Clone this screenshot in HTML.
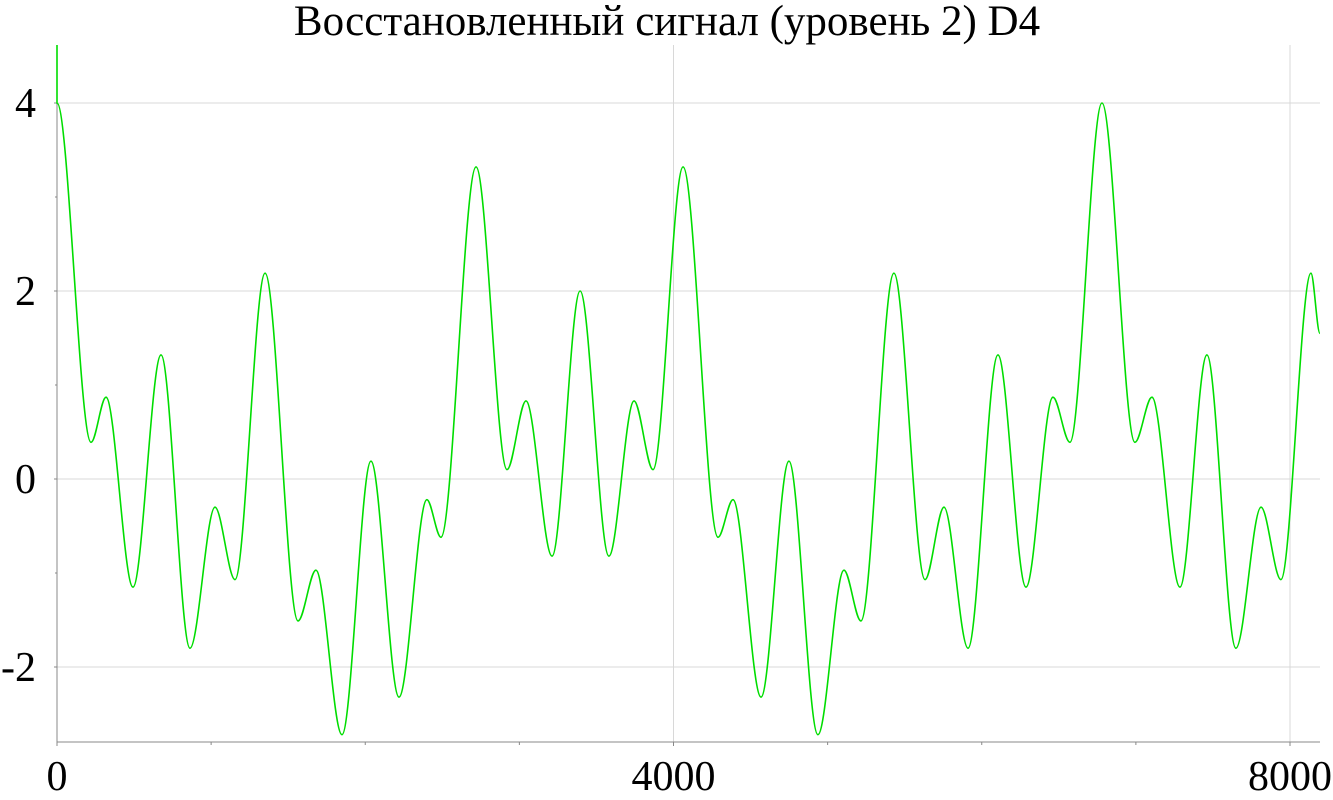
<!DOCTYPE html>
<html><head><meta charset="utf-8"><style>
html,body{margin:0;padding:0;background:#fff;}
svg{display:block;font-family:"Liberation Serif",serif;}
</style></head><body>
<svg id="chart" width="1333" height="800">
<text x="667" y="35" text-anchor="middle" font-size="43">Восстановленный сигнал (уровень 2) D4</text>
<g id="grid"></g><g id="axes"></g><g id="series"></g>
</svg>
<script>
const sampleIdx = [0,221,318,493,675,863,1025,1155,1350,1564,1680,1849,2037,2219,2400,2491,2719,2920,3043,3212,3394,3581,3744,3867,4062,4289,4386,4568,4749,4937,5106,5216,5430,5632,5755,5911,6105,6287,6462,6572,6780,6994,7104,7286,7461,7649,7812,7941,8136,8194];
const amplitude = [4.0,0.39,0.87,-1.15,1.32,-1.8,-0.3,-1.07,2.19,-1.51,-0.97,-2.72,0.19,-2.32,-0.22,-0.62,3.32,0.1,0.83,-0.82,2.0,-0.82,0.83,0.1,3.32,-0.62,-0.22,-2.32,0.19,-2.72,-0.97,-1.51,2.19,-1.07,-0.3,-1.8,1.32,-1.15,0.87,0.39,4.0,0.39,0.87,-1.15,1.32,-1.8,-0.3,-1.07,2.19,1.55];
const xTicks = [0,4000,8000];
const xMinor = [1000,2000,3000,5000,6000,7000];
const yTicks = [-2,0,2,4];
const yMinor = [-1,1,3];

const X0=57, X1=1320, Y0=45, Y1=742;
const xs = v => 57 + v*0.154125;
const ys = v => 479 - v*94;
const NS='http://www.w3.org/2000/svg';
function mk(tag, attrs, parent){const e=document.createElementNS(NS,tag);for(const k in attrs)e.setAttribute(k,attrs[k]);parent.appendChild(e);return e;}
const grid=document.getElementById('grid'), axes=document.getElementById('axes'), series=document.getElementById('series');

yTicks.forEach(v=>{
  const l=mk('line',{x1:X0,x2:X1,y1:ys(v),y2:ys(v),stroke:'#d8d8d8','stroke-width':1},grid);
  
  
  const t=mk('line',{x1:X0-3,x2:X0,y1:ys(v),y2:ys(v),stroke:'#888'},axes);
  
  
  const tx=mk('text',{x:X0-21,y:ys(v)+14,'text-anchor':'end','font-size':42},axes);
  tx.textContent=v;
  
  
});
yMinor.forEach(v=>{
  const t=mk('line',{x1:X0-2,x2:X0,y1:ys(v),y2:ys(v),stroke:'#888'},axes);
  
  
});
xTicks.forEach(v=>{
  const l=mk('line',{x1:xs(v),x2:xs(v),y1:Y0,y2:Y1,stroke:'#d8d8d8','stroke-width':1},grid);
  
  
  const t=mk('line',{x1:xs(v),x2:xs(v),y1:Y1,y2:Y1+4,stroke:'#888'},axes);
  
  
  const tx=mk('text',{x:xs(v),y:790,'text-anchor':'middle','font-size':42},axes);
  tx.textContent=v;
  
  
});
xMinor.forEach(v=>{
  const t=mk('line',{x1:xs(v),x2:xs(v),y1:Y1,y2:Y1+3,stroke:'#888'},axes);
  
  
});
const ya=mk('line',{x1:X0,x2:X0,y1:Y0,y2:Y1,stroke:'#888'},axes);


const xa=mk('line',{x1:X0,x2:X1,y1:Y1,y2:Y1,stroke:'#888'},axes);



let d=`M${xs(sampleIdx[0])},${Y0} L${xs(sampleIdx[0])},${ys(amplitude[0])}`;
for(let i=1;i<sampleIdx.length;i++){
  const xa_=xs(sampleIdx[i-1]), xb=xs(sampleIdx[i]), ya_=ys(amplitude[i-1]), yb=ys(amplitude[i]);
  const dx=(xb-xa_)/3;
  d+=` C${xa_+dx},${ya_} ${xb-dx},${yb} ${xb},${yb}`;
}
const p=mk('path',{d:d,fill:'none',stroke:'#00dd00','stroke-width':1.6},series);


</script>
</body></html>
